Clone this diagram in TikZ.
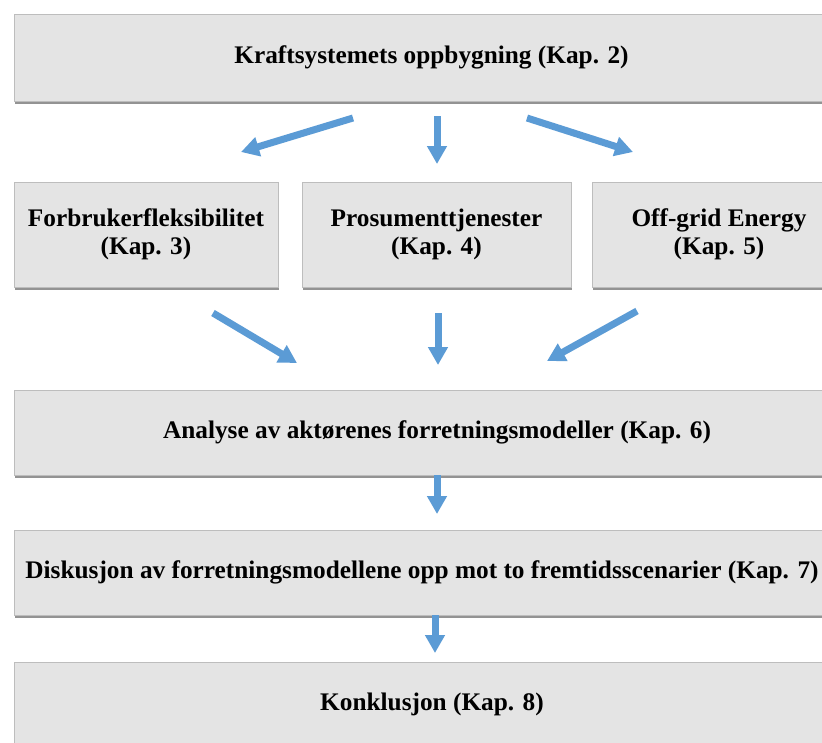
\documentclass[tikz,border=0pt]{standalone}
\usepackage{fontspec}
\setmainfont{Liberation Serif}
\usetikzlibrary{arrows.meta,shadows}
\definecolor{boxfill}{HTML}{E4E4E4}
\definecolor{boxline}{HTML}{BDBDBD}
\definecolor{arrowblue}{HTML}{5B9BD5}
\begin{document}
\begin{tikzpicture}[x=1pt,y=-1pt,
  box/.style={draw=boxline, line width=0.8pt, fill=boxfill,
    drop shadow={shadow xshift=0.6pt, shadow yshift=-2.6pt, fill=black!60, opacity=0.7},
    inner sep=0pt, align=center,
    font=\fontsize{25.3}{28}\selectfont\bfseries},
  flow/.style={draw=arrowblue, line width=7pt,
    -{Triangle[width=19pt,length=18pt]}}]
  % page frame
  \useasboundingbox (0,0) rectangle (822,742);
  \fill[white] (0,0) rectangle (822,742);
  \clip (0,0) rectangle (822,742);

  % chapter boxes
  \node[box, minimum width=835pt, minimum height=87pt] (kraft) at (431.5,57.5)
    {Kraftsystemets oppbygning (Kap. 2)};
  \node[box, minimum width=264pt, minimum height=105pt] (forbr) at (146,234.5)
    {Forbrukerfleksibilitet\\(Kap. 3)};
  \node[box, minimum width=269pt, minimum height=105pt] (prosu) at (436.5,234.5)
    {Prosumenttjenester\\(Kap. 4)};
  \node[box, minimum width=254pt, minimum height=105pt] (offgr) at (719,234.5)
    {Off-grid Energy\\(Kap. 5)};
  \node[box, minimum width=846pt, minimum height=85pt] (analy) at (437,432.5)
    {Analyse av aktørenes forretningsmodeller (Kap. 6)};
  \node[box, minimum width=816pt, minimum height=85pt] (disku) at (422,572.5)
    {Diskusjon av forretningsmodellene opp mot to fremtidsscenarier (Kap. 7)};
  \node[box, minimum width=836pt, minimum height=85pt] (konkl) at (432,704.5)
    {Konklusjon (Kap. 8)};

  % arrow end points
  \coordinate (s1) at (353,118);  \coordinate (e1) at (241,152);
  \coordinate (s2) at (437,116);  \coordinate (e2) at (437,164);
  \coordinate (s3) at (527,118);  \coordinate (e3) at (633,152);
  \coordinate (s4) at (213,313);  \coordinate (e4) at (297,363);
  \coordinate (s5) at (438,313);  \coordinate (e5) at (438,365);
  \coordinate (s6) at (637,311);  \coordinate (e6) at (547,361);
  \coordinate (e7) at (437,514);
  \coordinate (s8) at (435,615);  \coordinate (e8) at (435,653);

  % arrows
  \draw[flow] (s1) -- (e1);
  \draw[flow] (s2) -- (e2);
  \draw[flow] (s3) -- (e3);
  \draw[flow] (s4) -- (e4);
  \draw[flow] (s5) -- (e5);
  \draw[flow] (s6) -- (e6);
  \draw[flow] (analy.south) -- (e7);
  \draw[flow] (s8) -- (e8);
\end{tikzpicture}
\end{document}
